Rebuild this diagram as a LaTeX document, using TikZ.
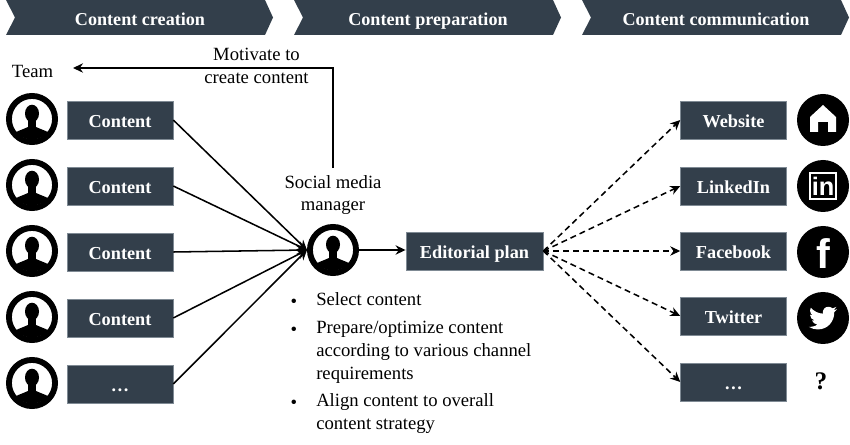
\documentclass[tikz,border=0pt]{standalone}
\usepackage{fontspec}
\setmainfont{Liberation Serif}
\newfontfamily\iconfont{Liberation Sans}
\usetikzlibrary{arrows.meta,positioning}
\definecolor{slatebar}{HTML}{333F4B}
\definecolor{slateedge}{HTML}{7F8A94}
\tikzset{
  x=0.75pt,y=-0.75pt,
  banner/.style={fill=slatebar,draw=none},
  bannertext/.style={text=white,font=\fontsize{13.6}{15}\selectfont\bfseries,inner sep=0pt,text height=11pt,text depth=1pt},
  darkbox/.style={fill=slatebar,draw=slateedge,line width=0.4pt,minimum width=79.5pt,minimum height=28.5pt,inner sep=0pt,text=white,font=\fontsize{13.7}{15}\selectfont\bfseries,text height=11.75pt,text depth=0.25pt},
  plain/.style={font=\fontsize{14}{17}\selectfont,inner sep=0pt,align=center},
  bullettext/.style={font=\fontsize{14}{17.25}\selectfont,inner sep=0pt,align=left,anchor=north west},
  ring/.style={circle,draw=black,line width=4.4pt,fill=white,minimum size=34.6pt,inner sep=0pt},
  badge/.style={circle,fill=black,draw=none,minimum size=39pt,inner sep=0pt},
  solidlink/.style={draw=black,line width=1.15pt,-{Stealth[length=7.5pt,width=7pt]}},
  dashlink/.style={draw=black,line width=1.15pt,dash pattern=on 4.5pt off 3pt,-{Stealth[length=7.5pt,width=7pt]}},
  person/.pic={
    \begin{scope}
      \clip (0,0) circle (20.5);
      \fill[black] (0,-5.5) ellipse (7 and 8.8);
      \fill[black] (-4,0) rectangle (4,8);
      \fill[black] (-22,30) -- (-22,18) .. controls (-17,12) and (-10,11) .. (-4,8)
        -- (4,8) .. controls (10,11) and (17,12) .. (22,18) -- (22,30) -- cycle;
    \end{scope}
  },
}
\begin{document}
\begin{tikzpicture}
\useasboundingbox (0,0) rectangle (850,445);

% process banners along the top
\fill[banner] (6,0) -- (265,0) -- (273,17.5) -- (265,35) -- (6,35) -- (15,17.5) -- cycle;
\fill[banner] (294,0) -- (553,0) -- (561,17.5) -- (553,35) -- (294,35) -- (303,17.5) -- cycle;
\fill[banner] (582,0) -- (841,0) -- (849,17.5) -- (841,35) -- (582,35) -- (591,17.5) -- cycle;
\node[bannertext] (h1) at (140,18.5) {Content creation};
\node[bannertext] (h2) at (428,18.5) {Content preparation};
\node[bannertext] (h3) at (716,18.5) {Content communication};

% team column
\node[plain] (team) at (32.5,71) {Team};
\coordinate (teamend) at (73,68);
\foreach \n/\y/\t in {1/120/Content,2/186/Content,3/252/Content,4/318/Content,5/384/\dots}{
  \node[ring] (p\n) at (32,\y-1) {};
  \pic at (p\n.center) {person};
  \node[darkbox] (c\n) at (120,\y) {\t};
}

% social media manager
\node[ring] (mgr) at (333,250) {};
\pic at (mgr.center) {person};
\node[plain] (smm) at (333,195) {Social media\\manager};
\node[plain] (mot) at (256.5,66) {Motivate to\\create content};
\draw[solidlink] ([yshift=5pt]smm.north) |- (teamend);
\foreach \n in {1,...,5}{
  \draw[solidlink] (c\n.east) -- (mgr.west);
}

% editorial plan
\node[darkbox,minimum width=103pt] (plan) at (474.5,251) {Editorial plan};
\draw[solidlink] (mgr.east) -- (mgr.east -| plan.west);

% tasks under the manager
\node[plain] (d1) at (294,303) {•};
\node[plain] (d2) at (294,331) {•};
\node[plain] (d3) at (294,404) {•};
\node[bullettext] (t1) at (316,292) {Select content};
\node[bullettext] (t2) at (316,321) {Prepare/optimize content\\according to various channel\\requirements};
\node[bullettext] (t3) at (316,393) {Align content to overall\\content strategy};

% channels
\foreach \n/\y/\t in {1/120/Website,2/186/LinkedIn,3/251/Facebook,4/316/Twitter,5/382/\dots}{
  \node[darkbox] (k\n) at (733.5,\y) {\t};
  \draw[dashlink] (plan.east) -- (k\n.west);
}

% channel icons
\node[badge] (web) at (823,120) {};
\fill[white] ([shift={(-13,12)}]web.center) -- ++(0,-15) -- ++(13,-12) -- ++(13,12) -- ++(0,15)
  -- ++(-8,0) -- ++(0,-10) -- ++(-10,0) -- ++(0,10) -- cycle;

\node[badge] (lin) at (823,186) {};
\draw[white,line width=1.3pt] ([shift={(-13,-13)}]lin.center) rectangle ([shift={(13,13)}]lin.center);
\node[text=white,inner sep=0pt,font=\iconfont\fontsize{19}{19}\selectfont\bfseries] at (lin.center) {in};

\node[badge] (fb) at (823,252) {};
\node[text=white,inner sep=0pt,font=\iconfont\fontsize{31}{31}\selectfont\bfseries] at ([shift={(0,2)}]fb.center) {f};

\node[badge] (tw) at (823,318) {};
\begin{scope}[shift={(tw.center)},x=0.88pt,y=-0.88pt,shift={(-12,-12)}]
  \fill[white] (23.95,4.57) .. controls (22.6,5.1) .. (21.13,5.35)
    .. controls (22.2,4.7) .. (23.29,2.62)
    .. controls (22.34,3.18) and (21.29,3.58) .. (20.16,3.80)
    .. controls (19.2,2.9) and (17.9,2.45) .. (16.5,2.45)
    .. controls (13.8,2.45) and (11.6,4.6) .. (11.78,8.29)
    .. controls (7.69,8.095) and (4.067,6.13) .. (1.64,3.16)
    .. controls (1.2,3.9) .. (0.97,5.64)
    .. controls (0.97,7.35) and (1.84,8.85) .. (3.16,9.73)
    .. controls (2.3,9.7) .. (0.93,9.12)
    -- (0.93,9.18)
    .. controls (1,11.6) and (2.6,13.55) .. (4.88,14.01)
    .. controls (4.15,14.2) .. (2.67,14.09)
    .. controls (3.3,16) and (5.1,17.4) .. (7.27,17.51)
    .. controls (5.6,18.8) .. (1.17,19.62)
    .. controls (0.78,19.62) and (0.39,19.6) .. (0,19.55)
    .. controls (2.2,20.95) and (4.8,21.76) .. (7.56,21.76)
    .. controls (16.6,21.76) and (21.55,14.27) .. (21.55,7.78)
    -- (21.54,7.15)
    .. controls (22.5,6.45) and (23.4,5.6) .. (24,4.59) -- cycle;
\end{scope}

\node[inner sep=0pt,font=\fontsize{19}{19}\selectfont\bfseries] (unk) at (821,381) {?};
\end{tikzpicture}
\end{document}
